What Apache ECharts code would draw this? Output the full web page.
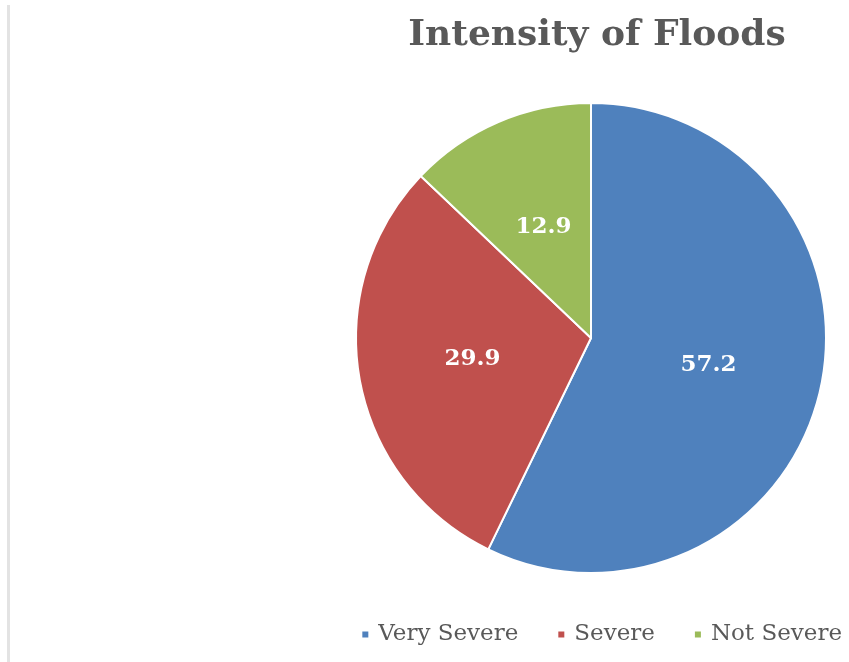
<!DOCTYPE html>
<html>
<head>
<meta charset="utf-8">
<script src="https://cdn.jsdelivr.net/npm/echarts@6/dist/echarts.min.js"></script>
<style>
  html, body { margin: 0; padding: 0; background: #fff; }
  #floodChart {
    position: absolute;
    left: 0;
    top: 0;
    width: 849px;
    height: 662px;
  }
  .side-line {
    position: absolute;
    left: 7px;
    top: 5px;
    width: 3px;
    height: 657px;
    background: #e3e3e3;
  }
</style>
</head>
<body>
<div class="side-line"></div>
<div id="floodChart"></div>
<script>
// intensity categories and their shares (%)
const categories = ['Very Severe', 'Severe', 'Not Severe']
const shares = [57.2, 29.9, 12.9]
const colors = ['#4F81BD', '#C0504D', '#9BBB59']

let floodChart = echarts.init(document.getElementById('floodChart'))

let option = {
  title: {
    text: 'Intensity of Floods',
    left: 592,
    top: 13,
    textAlign: 'center',
    textStyle: {
      fontFamily: 'DejaVu Serif',
      fontWeight: 'bold',
      fontSize: 36,
      color: '#595959'
    }
  },
  legend: {
    data: categories,
    right: 2,
    bottom: 11,
    icon: 'rect',
    itemWidth: 8,
    itemHeight: 8,
    itemGap: 38,
    textStyle: {
      fontFamily: 'DejaVu Serif',
      fontSize: 23,
      padding: [0, 0, 0, 4],
      color: '#595959'
    }
  },
  series: [
    {
      type: 'pie',
      center: [591, 338],
      radius: 235,
      startAngle: 90,
      clockwise: true,
      data: categories.map((name, i) => ({
        name: name,
        value: shares[i],
        itemStyle: { color: colors[i] }
      })),
      itemStyle: {
        borderColor: '#fff',
        borderWidth: 2
      },
      label: {
        show: true,
        position: 'inside',
        formatter: '{c}',
        fontFamily: 'DejaVu Serif',
        fontWeight: 'bold',
        fontSize: 23,
        color: '#fff'
      },
      labelLine: { show: false },
      emphasis: { disabled: true }
    }
  ]
}

floodChart.setOption(option)
</script>
</body>
</html>
